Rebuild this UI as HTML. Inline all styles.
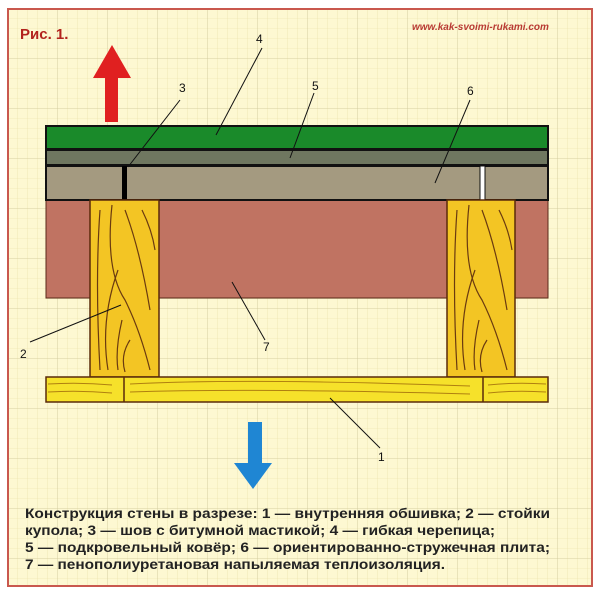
<!DOCTYPE html>
<html><head><meta charset="utf-8"><style>
body{margin:0;width:600px;height:597px;background:#fff;overflow:hidden}
svg{display:block}
</style></head><body>
<svg width="600" height="597" viewBox="0 0 600 597" xmlns="http://www.w3.org/2000/svg">
<defs>
<pattern id="minor" width="10" height="10" patternUnits="userSpaceOnUse" x="8" y="9">
<path d="M10 0V10M0 10H10" stroke="#e8dfa6" stroke-width="0.6" fill="none"/>
</pattern>
<pattern id="major" width="50" height="50" patternUnits="userSpaceOnUse" x="8" y="9">
<path d="M50 0V50M0 50H50" stroke="#cfc79a" stroke-width="0.8" fill="none"/>
</pattern>
</defs>
<rect x="8" y="9" width="584" height="577" fill="#fdf8d2"/>
<rect x="8" y="9" width="584" height="577" fill="url(#minor)"/>
<rect x="8" y="9" width="584" height="577" fill="url(#major)"/>
<rect x="8" y="9" width="584" height="577" fill="none" stroke="#c9584e" stroke-width="2"/>
<text x="20" y="39" font-family="Liberation Sans, sans-serif" font-weight="bold" font-size="15" fill="#b2231d">Рис. 1.</text>
<text x="412" y="30" font-family="Liberation Sans, sans-serif" font-weight="bold" font-style="italic" font-size="10" fill="#b83a33">www.kak-svoimi-rukami.com</text>
<!-- red arrow -->
<polygon points="112,45 131,78 118,78 118,122 105,122 105,78 93,78" fill="#e02020"/>
<!-- blue arrow -->
<polygon points="248,422 262,422 262,463 272,463 253,489 234,463 248,463" fill="#1f86d3"/>
<!-- pink insulation -->
<rect x="46" y="200" width="502" height="98" fill="#c07362" stroke="#5a2a1a" stroke-width="1"/>
<!-- layers -->
<rect x="46" y="126" width="502" height="23" fill="#1a8a2a" stroke="#111" stroke-width="2"/>
<rect x="46" y="150" width="502" height="15" fill="#6f7760" stroke="#111" stroke-width="2"/>
<rect x="46" y="166" width="502" height="34" fill="#a49a80" stroke="#111" stroke-width="2"/>
<rect x="122" y="166" width="5" height="34" fill="#000"/>
<rect x="480" y="166" width="5" height="34" fill="#fff" stroke="#111" stroke-width="1"/>
<!-- studs -->
<rect x="90" y="200" width="69" height="177" fill="#f3c524" stroke="#5a2a0a" stroke-width="1.5"/>
<rect x="447" y="200" width="68" height="177" fill="#f3c524" stroke="#5a2a0a" stroke-width="1.5"/>
<g stroke="#6a3a10" stroke-width="1.2" fill="none">
<path d="M100 210Q95 280 100 370M112 205Q105 270 125 300Q140 330 150 370M118 270Q100 320 108 370M125 210Q140 250 150 310M142 210Q152 230 155 250M122 320Q115 350 118 370M130 340Q120 355 125 372"/>
<path d="M457 210Q452 280 457 370M469 205Q462 270 482 300Q497 330 507 370M475 270Q457 320 465 370M482 210Q497 250 507 310M499 210Q509 230 512 250M479 320Q472 350 475 370M487 340Q477 355 482 372"/>
</g>
<!-- bottom board -->
<rect x="46" y="377" width="502" height="25" fill="#f6e12a" stroke="#5a2a0a" stroke-width="1.5"/>
<line x1="124" y1="377" x2="124" y2="402" stroke="#5a2a0a" stroke-width="1.5"/>
<line x1="483" y1="377" x2="483" y2="402" stroke="#5a2a0a" stroke-width="1.5"/>
<g stroke="#b08010" stroke-width="1" fill="none">
<path d="M48 384Q80 382 112 385M48 392Q80 390 112 393M130 384Q250 378 470 386M130 392Q250 388 470 394M488 385Q515 382 546 384M488 393Q515 390 546 392"/>
</g>
<!-- leader lines -->
<g stroke="#111" stroke-width="1" fill="none">
<line x1="262" y1="48" x2="216" y2="135"/>
<line x1="180" y1="100" x2="128" y2="167"/>
<line x1="314" y1="93" x2="290" y2="158"/>
<line x1="470" y1="100" x2="435" y2="183"/>
<line x1="30" y1="342" x2="121" y2="305"/>
<line x1="265" y1="340" x2="232" y2="282"/>
<line x1="380" y1="448" x2="330" y2="398"/>
</g>
<g font-family="Liberation Sans, sans-serif" font-size="12" fill="#111">
<text x="256" y="43">4</text>
<text x="179" y="92">3</text>
<text x="312" y="90">5</text>
<text x="467" y="95">6</text>
<text x="20" y="358">2</text>
<text x="263" y="351">7</text>
<text x="378" y="461">1</text>
</g>
<g font-family="Liberation Sans, sans-serif" font-size="13.5" font-weight="bold" fill="#222">
<text x="25" y="518" textLength="525" lengthAdjust="spacingAndGlyphs">Конструкция стены в разрезе: 1 — внутренняя обшивка; 2 — стойки</text>
<text x="25" y="535" textLength="470" lengthAdjust="spacingAndGlyphs">купола; 3 — шов с битумной мастикой; 4 — гибкая черепица;</text>
<text x="25" y="552" textLength="525" lengthAdjust="spacingAndGlyphs">5 — подкровельный ковёр; 6 — ориентированно-стружечная плита;</text>
<text x="25" y="569" textLength="420" lengthAdjust="spacingAndGlyphs">7 — пенополиуретановая напыляемая теплоизоляция.</text>
</g>
</svg>
</body></html>
